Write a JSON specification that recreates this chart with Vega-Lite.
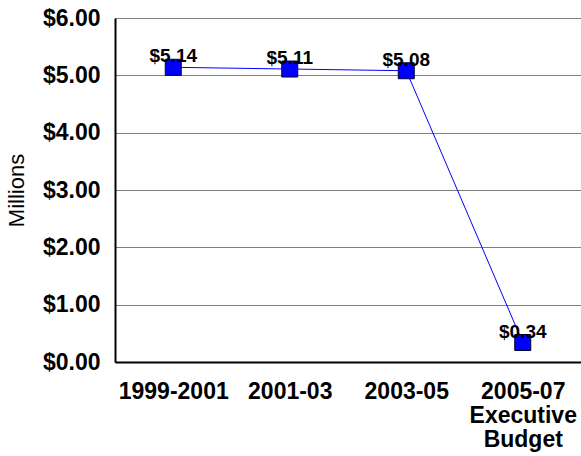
{
  "$schema": "https://vega.github.io/schema/vega-lite/v6.json",
  "autosize": {"type": "none"},
  "padding": {"left": 115, "top": 18, "right": 0, "bottom": 94},
  "width": 466,
  "height": 344,
  "background": "white",
  "config": {
    "font": "Liberation Sans",
    "view": {"stroke": null}
  },
  "data": {
    "values": [
      {"period": "1999-2001", "amount": 5.14, "label": "$5.14"},
      {"period": "2001-03", "amount": 5.11, "label": "$5.11"},
      {"period": "2003-05", "amount": 5.08, "label": "$5.08"},
      {"period": "2005-07|Executive|Budget", "amount": 0.34, "label": "$0.34"}
    ]
  },
  "encoding": {
    "x": {
      "field": "period",
      "type": "ordinal",
      "sort": null,
      "scale": {"type": "point", "padding": 0.5},
      "axis": {
        "title": null,
        "labelExpr": "split(datum.label, '|')",
        "labelFont": "Liberation Sans",
        "labelFontSize": 23,
        "labelFontWeight": "bold",
        "labelColor": "black",
        "labelAngle": 0,
        "labelLineHeight": 24,
        "labelPadding": 18,
        "ticks": false,
        "domainColor": "black",
        "domainWidth": 2,
        "grid": false
      }
    },
    "y": {
      "field": "amount",
      "type": "quantitative",
      "scale": {"domain": [0, 6], "nice": false},
      "axis": {
        "title": "Millions",
        "titleFont": "Liberation Sans",
        "titleFontSize": 22,
        "titleFontWeight": "normal",
        "titleColor": "black",
        "titlePadding": 14,
        "values": [0, 1, 2, 3, 4, 5, 6],
        "labelExpr": "'$' + format(datum.value, '.2f')",
        "labelFont": "Liberation Sans",
        "labelFontSize": 23,
        "labelFontWeight": "bold",
        "labelColor": "black",
        "labelPadding": 15,
        "ticks": false,
        "domainColor": "black",
        "domainWidth": 2,
        "grid": true,
        "gridColor": "#808080",
        "gridWidth": 1
      }
    }
  },
  "layer": [
    {"mark": {"type": "line", "color": "#0000FF", "strokeWidth": 1}},
    {"mark": {"type": "square", "filled": true, "color": "#0000FF", "size": 256, "stroke": "#000033", "strokeWidth": 1, "opacity": 1}},
    {
      "mark": {"type": "text", "font": "Liberation Sans", "fontSize": 19, "fontWeight": "bold", "color": "black", "baseline": "alphabetic", "dy": -5},
      "encoding": {"text": {"field": "label"}}
    }
  ]
}
